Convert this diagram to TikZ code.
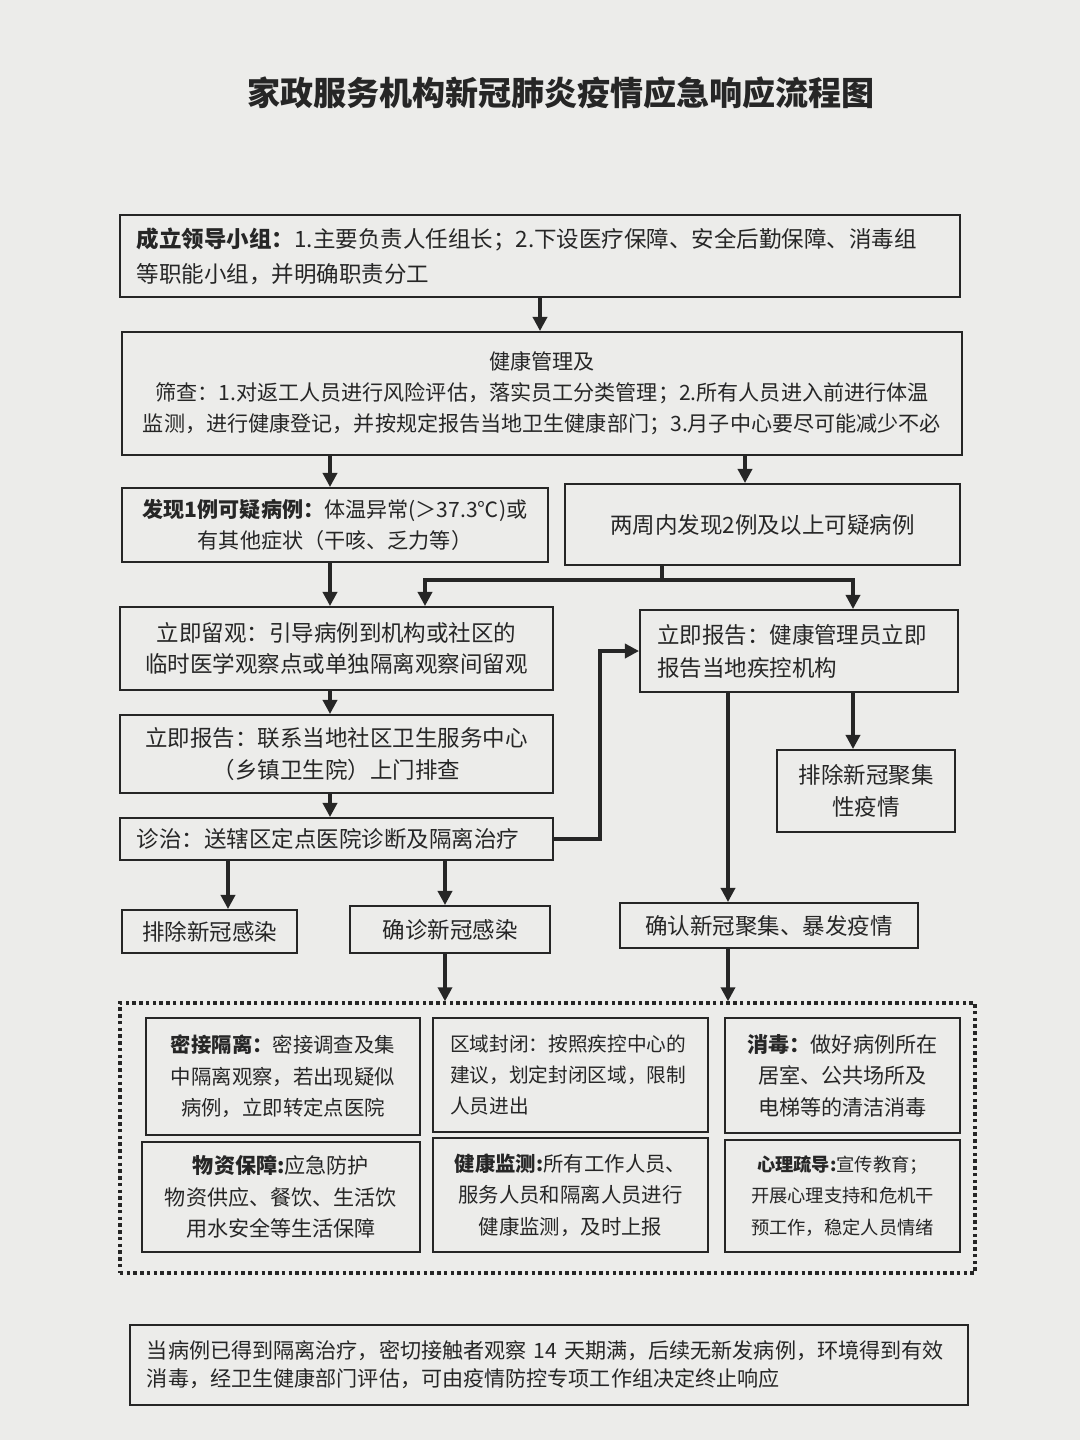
\documentclass[tikz,border=0pt]{standalone}
\usepackage{fontspec}
\setmainfont{Noto Sans CJK SC}
\usetikzlibrary{arrows.meta,calc}
\definecolor{paper}{RGB}{236,236,234}
\definecolor{ink}{RGB}{38,38,38}
\tikzset{
  box/.style={draw=ink, line width=1.4pt, inner xsep=0.425cm, inner ysep=0pt, text=ink, align=center, font=\fontsize{16}{22.5}\selectfont},
  lbox/.style={align=left},
  inbox/.style={font=\fontsize{14.5}{22.3}\selectfont},
  arr/.style={draw=ink, line width=2.4pt, -{Triangle[length=10pt,width=10pt]}},
  ln/.style={draw=ink, line width=2.4pt},
  grp/.style={draw=ink, line width=2.4pt, dash pattern=on 2.4pt off 2.4pt},
}
% name, x1, y1, x2, y2, options, text   (pixel coordinates)
\newcommand\pbox[7]{%
  \pgfmathsetmacro\bw{(#4-#2)*0.025}%
  \pgfmathsetmacro\bh{(#5-#3)*0.025}%
  \pgfmathsetmacro\tw{(#4-#2-34)*0.025}%
  \node[box,minimum width=\bw cm,minimum height=\bh cm,text width=\tw cm,#6] (#1) at ({(#2+#4)/2},{(#3+#5)/2}) {#7};}
\begin{document}
\begin{tikzpicture}[x=0.025cm,y=-0.025cm]
\fill[paper] (0,0) rectangle (1080,1440);
\useasboundingbox (0,0) rectangle (1080,1440);

\node[text=ink, font=\fontsize{23.5}{28}\selectfont\bfseries] (title) at (561,93) {家政服务机构新冠肺炎疫情应急响应流程图};

\pbox{b1}{120}{215}{960}{297}{lbox,font=\fontsize{16}{25}\selectfont}{\textbf{成立领导小组：}1.主要负责人任组长；2.下设医疗保障、安全后勤保障、消毒组\\等职能小组，并明确职责分工}
\pbox{b2}{122}{332}{962}{455}{font=\fontsize{15}{22}\selectfont}{健康管理及\\筛查：1.对返工人员进行风险评估，落实员工分类管理；2.所有人员进入前进行体温\\监测，进行健康登记，并按规定报告当地卫生健康部门；3.月子中心要尽可能减少不必}
\pbox{b3a}{122}{488}{548}{562}{font=\fontsize{15}{22}\selectfont}{\textbf{发现1例可疑病例：}体温异常(＞37.3℃)或\\有其他症状（干咳、乏力等）}
\pbox{b3b}{565}{484}{960}{565}{}{两周内发现2例及以上可疑病例}
\pbox{b4a}{120}{607}{553}{690}{}{立即留观：引导病例到机构或社区的\\临时医学观察点或单独隔离观察间留观}
\pbox{b4b}{640}{610}{958}{692}{lbox,font=\fontsize{16}{23.5}\selectfont}{立即报告：健康管理员立即\\报告当地疾控机构}
\pbox{b5}{120}{715}{553}{793}{}{立即报告：联系当地社区卫生服务中心\\（乡镇卫生院）上门排查}
\pbox{b6}{120}{818}{553}{860}{lbox}{诊治：送辖区定点医院诊断及隔离治疗}
\pbox{b8}{777}{750}{955}{832}{}{排除新冠聚集\\性疫情}
\pbox{b7a}{122}{910}{297}{953}{}{排除新冠感染}
\pbox{b7b}{350}{906}{550}{953}{}{确诊新冠感染}
\pbox{b7c}{620}{903}{918}{948}{}{确认新冠聚集、暴发疫情}

\pbox{g}{120}{1003}{975}{1273}{grp}{}
\pbox{a1}{146}{1018}{420}{1135}{inbox}{\textbf{密接隔离：}密接调查及集\\中隔离观察，若出现疑似\\病例，立即转定点医院}
\pbox{a2}{433}{1018}{708}{1132}{inbox,lbox,font=\fontsize{14}{22.3}\selectfont}{区域封闭：按照疾控中心的\\建议，划定封闭区域，限制\\人员进出}
\pbox{a3}{725}{1018}{960}{1133}{inbox,font=\fontsize{15}{22.3}\selectfont}{\textbf{消毒：}做好病例所在\\居室、公共场所及\\电梯等的清洁消毒}
\pbox{c1}{142}{1142}{420}{1252}{inbox,font=\fontsize{15}{22.3}\selectfont}{\textbf{物资保障:}应急防护\\物资供应、餐饮、生活饮\\用水安全等生活保障}
\pbox{c2}{433}{1138}{708}{1252}{inbox}{\textbf{健康监测:}所有工作人员、\\服务人员和隔离人员进行\\健康监测，及时上报}
\pbox{c3}{725}{1140}{960}{1252}{inbox,font=\fontsize{13}{22.5}\selectfont}{\textbf{心理疏导:}宣传教育；\\开展心理支持和危机干\\预工作，稳定人员情绪}

\pbox{fin}{130}{1325}{968}{1405}{lbox,font=\fontsize{15}{20}\selectfont}{当病例已得到隔离治疗，密切接触者观察 14 天期满，后续无新发病例，环境得到有效\\消毒，经卫生健康部门评估，可由疫情防控专项工作组决定终止响应}

% x positions of connectors
\coordinate (x228) at (228,0);
\coordinate (x330) at (330,0);
\coordinate (x425) at (425,0);
\coordinate (x445) at (445,0);
\coordinate (x600) at (600,0);
\coordinate (x728) at (728,0);
\coordinate (x745) at (745,0);
\coordinate (x853) at (853,0);
\coordinate (sp) at (662,580);

\draw[arr] (b1.south) -- (b1.south |- b2.north);
\draw[arr] (x330 |- b2.south) -- (x330 |- b3a.north);
\draw[arr] (x745 |- b2.south) -- (x745 |- b3b.north);
\draw[ln] (sp |- b3b.south) -- (sp);
\draw[arr] (sp) -| (x425 |- b4a.north);
\draw[arr] (sp) -| (x853 |- b4b.north);
\draw[arr] (x330 |- b3a.south) -- (x330 |- b4a.north);
\draw[arr] (x330 |- b4a.south) -- (x330 |- b5.north);
\draw[arr] (x330 |- b5.south) -- (x330 |- b6.north);
\draw[arr] (b6.east) -- (b6.east -| x600) -- (x600 |- b4b.west) -- (b4b.west);
\draw[arr] (x228 |- b6.south) -- (x228 |- b7a.north);
\draw[arr] (x445 |- b6.south) -- (x445 |- b7b.north);
\draw[arr] (x728 |- b4b.south) -- (x728 |- b7c.north);
\draw[arr] (x853 |- b4b.south) -- (x853 |- b8.north);
\draw[arr] (x445 |- b7b.south) -- (x445 |- g.north);
\draw[arr] (x728 |- b7c.south) -- (x728 |- g.north);
\end{tikzpicture}
\end{document}
